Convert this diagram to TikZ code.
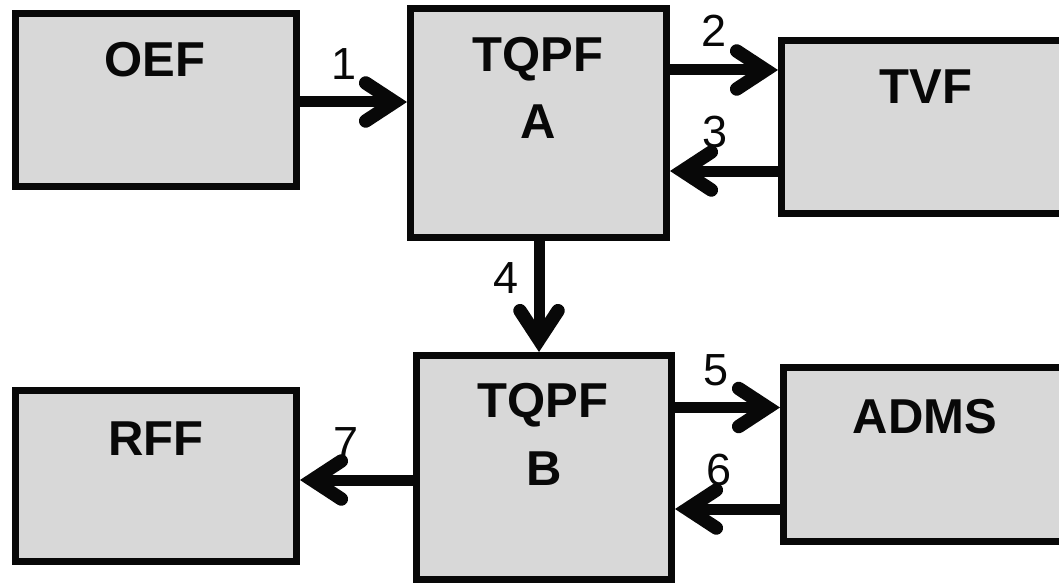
\documentclass[tikz,border=0pt]{standalone}
\usepackage{fontspec}
\setmainfont{Liberation Sans}
\usetikzlibrary{arrows.meta}
\definecolor{boxfill}{HTML}{D8D8D8}
\definecolor{ink}{HTML}{080808}
\tikzset{
  blk/.style={draw=ink, fill=boxfill, line width=7pt, rectangle, inner sep=0pt},
  ttl/.style={anchor=base, inner sep=0pt, font=\fontsize{49}{58}\selectfont\bfseries, text=ink},
  num/.style={anchor=base, inner sep=0pt, font=\fontsize{45}{54}\selectfont, text=ink},
  conn/.style={draw=ink, line width=11pt,
    -{Straight Barb[length=29pt, width=38pt, line width=13.5pt, line cap=round, line join=miter]}},
}
\begin{document}
\begin{tikzpicture}[x=1pt, y=-1pt]
\path[use as bounding box] (0,0) rectangle (1059,583);
\clip (0,0) rectangle (1059,583);
% boxes
\node[blk, minimum width=281pt, minimum height=173pt] (oef) at (156,100) {};
\node[blk, minimum width=256pt, minimum height=229pt] (tqa) at (538.5,123) {};
\node[blk, minimum width=281pt, minimum height=173pt] (tvf) at (922,127) {};
\node[blk, minimum width=281pt, minimum height=171pt] (rff) at (156,476) {};
\node[blk, minimum width=255pt, minimum height=224pt] (tqb) at (544,467.5) {};
\node[blk, minimum width=281pt, minimum height=174pt] (adms) at (924,454.5) {};
% titles
\node[ttl] (toef) at (155,77) {OEF};
\node[ttl] (tqa1) at (538,72) {TQPF};
\node[ttl] (tqa2) at (538,138) {A};
\node[ttl] (ttvf) at (926,104) {TVF};
\node[ttl] (trff) at (156,455) {RFF};
\node[ttl] (tqb1) at (543,417) {TQPF};
\node[ttl] (tqb2) at (544,485) {B};
\node[ttl] (tadms) at (925,433) {ADMS};
% connectors
\draw[conn] (oef.east |- 0,102) -- (tqa.west |- 0,102);
\draw[conn] (tqa.east |- 0,70) -- (tvf.west |- 0,70);
\draw[conn] (tvf.west |- 0,171) -- (tqa.east |- 0,171);
\draw[conn] (tqa.south -| 539,0) -- (tqb.north -| 539,0);
\draw[conn] (tqb.east |- 0,407.5) -- (adms.west |- 0,407.5);
\draw[conn] (adms.west |- 0,509) -- (tqb.east |- 0,509);
\draw[conn] (tqb.west |- 0,480) -- (rff.east |- 0,480);
% labels
\node[num] (n1) at (344,80) {1};
\node[num] (n2) at (714.5,47) {2};
\node[num] (n3) at (715.5,147) {3};
\node[num] (n4) at (506.5,293) {4};
\node[num] (n5) at (716.5,385) {5};
\node[num] (n6) at (719,485) {6};
\node[num] (n7) at (346.5,458) {7};
\end{tikzpicture}
\end{document}
